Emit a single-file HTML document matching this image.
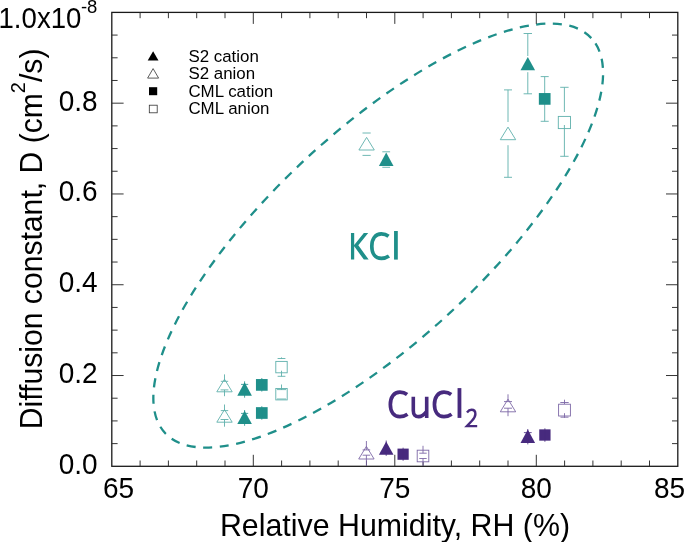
<!DOCTYPE html>
<html><head><meta charset="utf-8"><title>Diffusion constant vs RH</title>
<style>html,body{margin:0;padding:0;background:#fff}svg{display:block;will-change:transform}text{font-family:"Liberation Sans", sans-serif;fill:#000}</style></head><body>
<svg width="685" height="542" viewBox="0 0 685 542">
<rect x="0" y="0" width="685" height="542" fill="#fff"/>
<ellipse cx="378.21" cy="235.59" rx="290.52" ry="105.42" transform="rotate(-42.8 378.21 235.59)" fill="none" stroke="#1f8f8a" stroke-width="2.3" stroke-dasharray="9.1 7.52" stroke-dashoffset="9.89"/>
<g stroke="#1a1a1a" stroke-width="1.3" fill="none">
<rect x="111.80" y="12.40" width="566.00" height="453.90"/>
</g>
<g stroke="#2a2a2a" stroke-width="0.95" fill="none">
<path d="M140.10 466.30V460.50M140.10 12.40V18.20"/>
<path d="M168.40 466.30V460.50M168.40 12.40V18.20"/>
<path d="M196.70 466.30V460.50M196.70 12.40V18.20"/>
<path d="M225.00 466.30V460.50M225.00 12.40V18.20"/>
<path d="M253.30 466.30V454.80M253.30 12.40V23.90"/>
<path d="M281.60 466.30V460.50M281.60 12.40V18.20"/>
<path d="M309.90 466.30V460.50M309.90 12.40V18.20"/>
<path d="M338.20 466.30V460.50M338.20 12.40V18.20"/>
<path d="M366.50 466.30V460.50M366.50 12.40V18.20"/>
<path d="M394.80 466.30V454.80M394.80 12.40V23.90"/>
<path d="M423.10 466.30V460.50M423.10 12.40V18.20"/>
<path d="M451.40 466.30V460.50M451.40 12.40V18.20"/>
<path d="M479.70 466.30V460.50M479.70 12.40V18.20"/>
<path d="M508.00 466.30V460.50M508.00 12.40V18.20"/>
<path d="M536.30 466.30V454.80M536.30 12.40V23.90"/>
<path d="M564.60 466.30V460.50M564.60 12.40V18.20"/>
<path d="M592.90 466.30V460.50M592.90 12.40V18.20"/>
<path d="M621.20 466.30V460.50M621.20 12.40V18.20"/>
<path d="M649.50 466.30V460.50M649.50 12.40V18.20"/>
<path d="M111.80 443.61H117.60M677.80 443.61H672.00"/>
<path d="M111.80 420.91H117.60M677.80 420.91H672.00"/>
<path d="M111.80 398.21H117.60M677.80 398.21H672.00"/>
<path d="M111.80 375.52H123.60M677.80 375.52H666.00"/>
<path d="M111.80 352.82H117.60M677.80 352.82H672.00"/>
<path d="M111.80 330.13H117.60M677.80 330.13H672.00"/>
<path d="M111.80 307.43H117.60M677.80 307.43H672.00"/>
<path d="M111.80 284.74H123.60M677.80 284.74H666.00"/>
<path d="M111.80 262.04H117.60M677.80 262.04H672.00"/>
<path d="M111.80 239.35H117.60M677.80 239.35H672.00"/>
<path d="M111.80 216.65H117.60M677.80 216.65H672.00"/>
<path d="M111.80 193.96H123.60M677.80 193.96H666.00"/>
<path d="M111.80 171.26H117.60M677.80 171.26H672.00"/>
<path d="M111.80 148.57H117.60M677.80 148.57H672.00"/>
<path d="M111.80 125.88H117.60M677.80 125.88H672.00"/>
<path d="M111.80 103.18H123.60M677.80 103.18H666.00"/>
<path d="M111.80 80.48H117.60M677.80 80.48H672.00"/>
<path d="M111.80 57.79H117.60M677.80 57.79H672.00"/>
<path d="M111.80 35.09H117.60M677.80 35.09H672.00"/>
</g>
<text transform="translate(118.60 497.60) scale(1 1.035)" font-size="28" text-anchor="middle">65</text>
<text transform="translate(253.30 497.60) scale(1 1.035)" font-size="28" text-anchor="middle">70</text>
<text transform="translate(394.80 497.60) scale(1 1.035)" font-size="28" text-anchor="middle">75</text>
<text transform="translate(536.30 497.60) scale(1 1.035)" font-size="28" text-anchor="middle">80</text>
<text transform="translate(669.50 497.60) scale(1 1.035)" font-size="28" text-anchor="middle">85</text>
<text transform="translate(97.60 473.70) scale(1 1.035)" font-size="28" text-anchor="end">0.0</text>
<text transform="translate(97.60 382.92) scale(1 1.035)" font-size="28" text-anchor="end">0.2</text>
<text transform="translate(97.60 292.14) scale(1 1.035)" font-size="28" text-anchor="end">0.4</text>
<text transform="translate(97.60 201.36) scale(1 1.035)" font-size="28" text-anchor="end">0.6</text>
<text transform="translate(97.60 110.58) scale(1 1.035)" font-size="28" text-anchor="end">0.8</text>
<text transform="translate(-1.50 27.60) scale(1 1.035)" font-size="28" text-anchor="start" textLength="82.9" lengthAdjust="spacingAndGlyphs">1.0x10</text>
<text transform="translate(80.90 12.70) scale(1 1.035)" font-size="18.5" text-anchor="start">-8</text>
<text transform="translate(395.00 536.20) scale(1 1.035)" font-size="30.35" text-anchor="middle">Relative Humidity, RH (%)</text>
<text transform="translate(41.6 238.9) rotate(-90) scale(1 1.035)" font-size="30.15" text-anchor="middle">Diffusion constant, D (cm<tspan font-size="20" dy="-15.9">2</tspan><tspan dy="15.9">/s)</tspan></text>
<text transform="translate(188.40 61.80) scale(1 1.000)" font-size="16.9" text-anchor="start">S2 cation</text>
<text transform="translate(188.40 79.35) scale(1 1.000)" font-size="16.9" text-anchor="start">S2 anion</text>
<text transform="translate(188.40 96.90) scale(1 1.000)" font-size="16.9" text-anchor="start">CML cation</text>
<text transform="translate(188.40 114.45) scale(1 1.000)" font-size="16.9" text-anchor="start">CML anion</text>
<path d="M153.1 51.2L158.5 60.4H147.7Z" fill="#000"/>
<path d="M153.1 68.6L158.6 78.1H147.6Z" fill="#fff" stroke="#333" stroke-width="0.8"/>
<rect x="149" y="87.2" width="8.2" height="8" fill="#000"/>
<rect x="149.3" y="105.2" width="7.9" height="7.6" fill="#fff" stroke="#333" stroke-width="0.8"/>
<path d="M224.50 379.20L232.20 391.80H216.80Z" fill="#fff" stroke="#5fb0ac" stroke-width="0.9"/>
<path d="M224.50 374.40V381.30" stroke="#5fb0ac" stroke-width="0.90" fill="none"/>
<path d="M224.50 389.90V396.20" stroke="#5fb0ac" stroke-width="0.90" fill="none"/>
<path d="M220.80 381.30H228.20" stroke="#5fb0ac" stroke-width="0.90" fill="none"/>
<path d="M220.60 389.90H228.40" stroke="#5fb0ac" stroke-width="0.90" fill="none"/>
<path d="M224.50 409.60L232.20 422.20H216.80Z" fill="#fff" stroke="#5fb0ac" stroke-width="0.9"/>
<path d="M224.50 404.50V410.60" stroke="#5fb0ac" stroke-width="0.90" fill="none"/>
<path d="M224.50 419.50V426.70" stroke="#5fb0ac" stroke-width="0.90" fill="none"/>
<path d="M220.80 410.60H228.20" stroke="#5fb0ac" stroke-width="0.90" fill="none"/>
<path d="M220.60 419.50H228.40" stroke="#5fb0ac" stroke-width="0.90" fill="none"/>
<path d="M244.60 382.30L251.90 395.70H237.30Z" fill="#1f8f8a"/>
<path d="M244.60 381.30V397.70" stroke="#1f8f8a" stroke-width="0.80" fill="none"/>
<path d="M241.00 384.40H248.20" stroke="#1f8f8a" stroke-width="0.80" fill="none"/>
<path d="M244.60 410.70L251.90 424.10H237.30Z" fill="#1f8f8a"/>
<path d="M244.60 410.00V425.80" stroke="#1f8f8a" stroke-width="0.80" fill="none"/>
<path d="M241.00 413.40H248.20" stroke="#1f8f8a" stroke-width="0.80" fill="none"/>
<rect x="255.95" y="379.05" width="11.70" height="11.70" fill="#1f8f8a"/>
<path d="M261.80 378.00V391.60" stroke="#1f8f8a" stroke-width="0.80" fill="none"/>
<rect x="255.95" y="407.15" width="11.70" height="11.70" fill="#1f8f8a"/>
<path d="M261.80 406.20V419.70" stroke="#1f8f8a" stroke-width="0.80" fill="none"/>
<rect x="275.80" y="361.40" width="11.40" height="11.40" fill="#fff" stroke="#5fb0ac" stroke-width="0.9"/>
<path d="M277.60 358.50H285.40" stroke="#5fb0ac" stroke-width="0.90" fill="none"/>
<path d="M277.60 376.30H285.40" stroke="#5fb0ac" stroke-width="0.90" fill="none"/>
<path d="M281.50 357.40V358.60" stroke="#5fb0ac" stroke-width="0.90" fill="none"/>
<path d="M281.50 370.70V376.30" stroke="#5fb0ac" stroke-width="0.90" fill="none"/>
<rect x="275.80" y="388.50" width="11.40" height="11.40" fill="#fff" stroke="#5fb0ac" stroke-width="0.9"/>
<path d="M281.50 384.50V389.80" stroke="#5fb0ac" stroke-width="0.90" fill="none"/>
<path d="M276.90 389.60H286.10" stroke="#5fb0ac" stroke-width="0.90" fill="none"/>
<path d="M276.90 399.00H286.10" stroke="#5fb0ac" stroke-width="0.90" fill="none"/>
<path d="M366.60 137.40L374.30 150.00H358.90Z" fill="#fff" stroke="#5fb0ac" stroke-width="0.9"/>
<path d="M362.50 133.00H370.70" stroke="#5fb0ac" stroke-width="0.90" fill="none"/>
<path d="M362.50 155.40H370.70" stroke="#5fb0ac" stroke-width="0.90" fill="none"/>
<path d="M386.20 152.60L393.50 166.00H378.90Z" fill="#1f8f8a"/>
<path d="M382.30 151.80H390.10" stroke="#5fb0ac" stroke-width="0.90" fill="none"/>
<path d="M382.30 167.30H390.10" stroke="#5fb0ac" stroke-width="0.90" fill="none"/>
<path d="M508.00 89.90V122.00" stroke="#5fb0ac" stroke-width="0.90" fill="none"/>
<path d="M508.00 145.20V177.30" stroke="#5fb0ac" stroke-width="0.90" fill="none"/>
<path d="M504.00 89.90H512.00" stroke="#5fb0ac" stroke-width="0.90" fill="none"/>
<path d="M504.00 177.30H512.00" stroke="#5fb0ac" stroke-width="0.90" fill="none"/>
<path d="M508.00 127.10L515.70 139.70H500.30Z" fill="#fff" stroke="#5fb0ac" stroke-width="0.9"/>
<path d="M527.80 33.50V56.00" stroke="#5fb0ac" stroke-width="0.90" fill="none"/>
<path d="M527.80 72.20V93.80" stroke="#5fb0ac" stroke-width="0.90" fill="none"/>
<path d="M523.60 33.50H532.00" stroke="#5fb0ac" stroke-width="0.90" fill="none"/>
<path d="M523.60 93.80H532.00" stroke="#5fb0ac" stroke-width="0.90" fill="none"/>
<path d="M527.80 56.90L535.10 70.30H520.50Z" fill="#1f8f8a"/>
<path d="M544.70 76.60V121.30" stroke="#5fb0ac" stroke-width="0.90" fill="none"/>
<path d="M540.70 76.60H548.70" stroke="#5fb0ac" stroke-width="0.90" fill="none"/>
<path d="M540.70 121.30H548.70" stroke="#5fb0ac" stroke-width="0.90" fill="none"/>
<rect x="538.85" y="93.05" width="11.70" height="11.70" fill="#1f8f8a"/>
<path d="M564.40 87.30V112.00" stroke="#5fb0ac" stroke-width="0.90" fill="none"/>
<path d="M560.20 87.30H568.60" stroke="#5fb0ac" stroke-width="0.90" fill="none"/>
<path d="M560.20 156.30H568.60" stroke="#5fb0ac" stroke-width="0.90" fill="none"/>
<rect x="558.30" y="116.40" width="12.20" height="12.20" fill="#fff" stroke="#5fb0ac" stroke-width="0.9"/>
<path d="M564.40 125.00V156.30" stroke="#5fb0ac" stroke-width="0.90" fill="none"/>
<path d="M366.40 446.40L374.10 459.00H358.70Z" fill="#fff" stroke="#7d68a6" stroke-width="0.9"/>
<path d="M366.40 441.00V449.90" stroke="#7d68a6" stroke-width="0.90" fill="none"/>
<path d="M366.40 455.20V466.00" stroke="#7d68a6" stroke-width="0.90" fill="none"/>
<path d="M362.60 449.90H370.20" stroke="#7d68a6" stroke-width="0.90" fill="none"/>
<path d="M362.60 455.20H370.20" stroke="#7d68a6" stroke-width="0.90" fill="none"/>
<path d="M386.20 441.40L393.50 454.80H378.90Z" fill="#472a7e"/>
<path d="M386.20 440.50V455.90" stroke="#472a7e" stroke-width="0.80" fill="none"/>
<rect x="397.50" y="448.60" width="11.20" height="11.20" fill="#472a7e"/>
<path d="M403.10 447.70V460.80" stroke="#472a7e" stroke-width="0.80" fill="none"/>
<rect x="417.20" y="450.20" width="11.60" height="11.60" fill="#fff" stroke="#7d68a6" stroke-width="0.9"/>
<path d="M423.00 445.80V453.20" stroke="#7d68a6" stroke-width="0.90" fill="none"/>
<path d="M423.00 458.50V466.00" stroke="#7d68a6" stroke-width="0.90" fill="none"/>
<path d="M419.30 453.20H426.70" stroke="#7d68a6" stroke-width="0.90" fill="none"/>
<path d="M419.30 458.50H426.70" stroke="#7d68a6" stroke-width="0.90" fill="none"/>
<path d="M508.00 399.20L515.70 411.80H500.30Z" fill="#fff" stroke="#7d68a6" stroke-width="0.9"/>
<path d="M508.00 394.30V401.60" stroke="#7d68a6" stroke-width="0.90" fill="none"/>
<path d="M508.00 408.20V416.20" stroke="#7d68a6" stroke-width="0.90" fill="none"/>
<path d="M504.00 401.60H512.00" stroke="#7d68a6" stroke-width="0.90" fill="none"/>
<path d="M504.00 408.20H512.00" stroke="#7d68a6" stroke-width="0.90" fill="none"/>
<path d="M527.80 429.50L535.10 442.90H520.50Z" fill="#472a7e"/>
<path d="M527.80 429.00V444.40" stroke="#472a7e" stroke-width="0.80" fill="none"/>
<path d="M523.90 432.60H531.70" stroke="#472a7e" stroke-width="0.80" fill="none"/>
<rect x="539.25" y="429.35" width="11.30" height="11.30" fill="#472a7e"/>
<path d="M544.90 428.30V441.80" stroke="#472a7e" stroke-width="0.80" fill="none"/>
<rect x="558.60" y="404.20" width="11.80" height="11.80" fill="#fff" stroke="#7d68a6" stroke-width="0.9"/>
<path d="M564.50 399.70V404.00" stroke="#7d68a6" stroke-width="0.90" fill="none"/>
<path d="M564.50 413.20V417.80" stroke="#7d68a6" stroke-width="0.90" fill="none"/>
<path d="M560.30 402.50H568.70" stroke="#7d68a6" stroke-width="0.90" fill="none"/>
<path d="M560.50 417.20H568.50" stroke="#7d68a6" stroke-width="0.90" fill="none"/>
<path transform="translate(350.96 259.60)" d="M0 -26.72H3.24V-14.63L12.87 -26.72H17.25L7.35 -14.28L17.69 0H12.87L3.24 -13.32V0H0Z" fill="#1f8f8a"/>
<path transform="translate(369.96 259.60)" d="M18.6 -23.4C16.4 -25.1 13.9 -25.75 11.4 -25.75C5.4 -25.75 1.85 -20.8 1.85 -13.4C1.85 -6.1 5.4 -1.25 11.4 -1.25C14.1 -1.25 16.6 -1.9 19 -3.6" fill="none" stroke="#1f8f8a" stroke-width="3.70"/>
<rect x="394.05" y="231.00" width="3.75" height="28.60" fill="#1f8f8a"/>
<path transform="translate(388.50 417.90)" d="M18.6 -23.4C16.4 -25.1 13.9 -25.75 11.4 -25.75C5.4 -25.75 1.85 -20.8 1.85 -13.4C1.85 -6.1 5.4 -1.25 11.4 -1.25C14.1 -1.25 16.6 -1.9 19 -3.6" fill="none" stroke="#472a7e" stroke-width="3.70"/>
<path transform="translate(411.50 417.90)" d="M1.8 -21.2V-7.5C1.8 -3 3.8 -1.3 7.2 -1.3C10.2 -1.3 12.6 -3.2 15.2 -6.6M15.2 -21.2V0" fill="none" stroke="#472a7e" stroke-width="3.60"/>
<path transform="translate(432.60 417.90)" d="M18.6 -23.4C16.4 -25.1 13.9 -25.75 11.4 -25.75C5.4 -25.75 1.85 -20.8 1.85 -13.4C1.85 -6.1 5.4 -1.25 11.4 -1.25C14.1 -1.25 16.6 -1.9 19 -3.6" fill="none" stroke="#472a7e" stroke-width="3.70"/>
<rect x="457.55" y="388.10" width="3.80" height="29.80" fill="#472a7e"/>
<path transform="translate(465.50 427.30)" d="M1.5 -14.9C2.8 -16.6 4.6 -17.5 6 -17.5C8.4 -17.5 9.9 -15.8 9.9 -13.4C9.9 -10.8 8.6 -8.8 6.2 -6.3L1.4 -1.2H11.7" fill="none" stroke="#472a7e" stroke-width="2.40"/>
</svg></body></html>
